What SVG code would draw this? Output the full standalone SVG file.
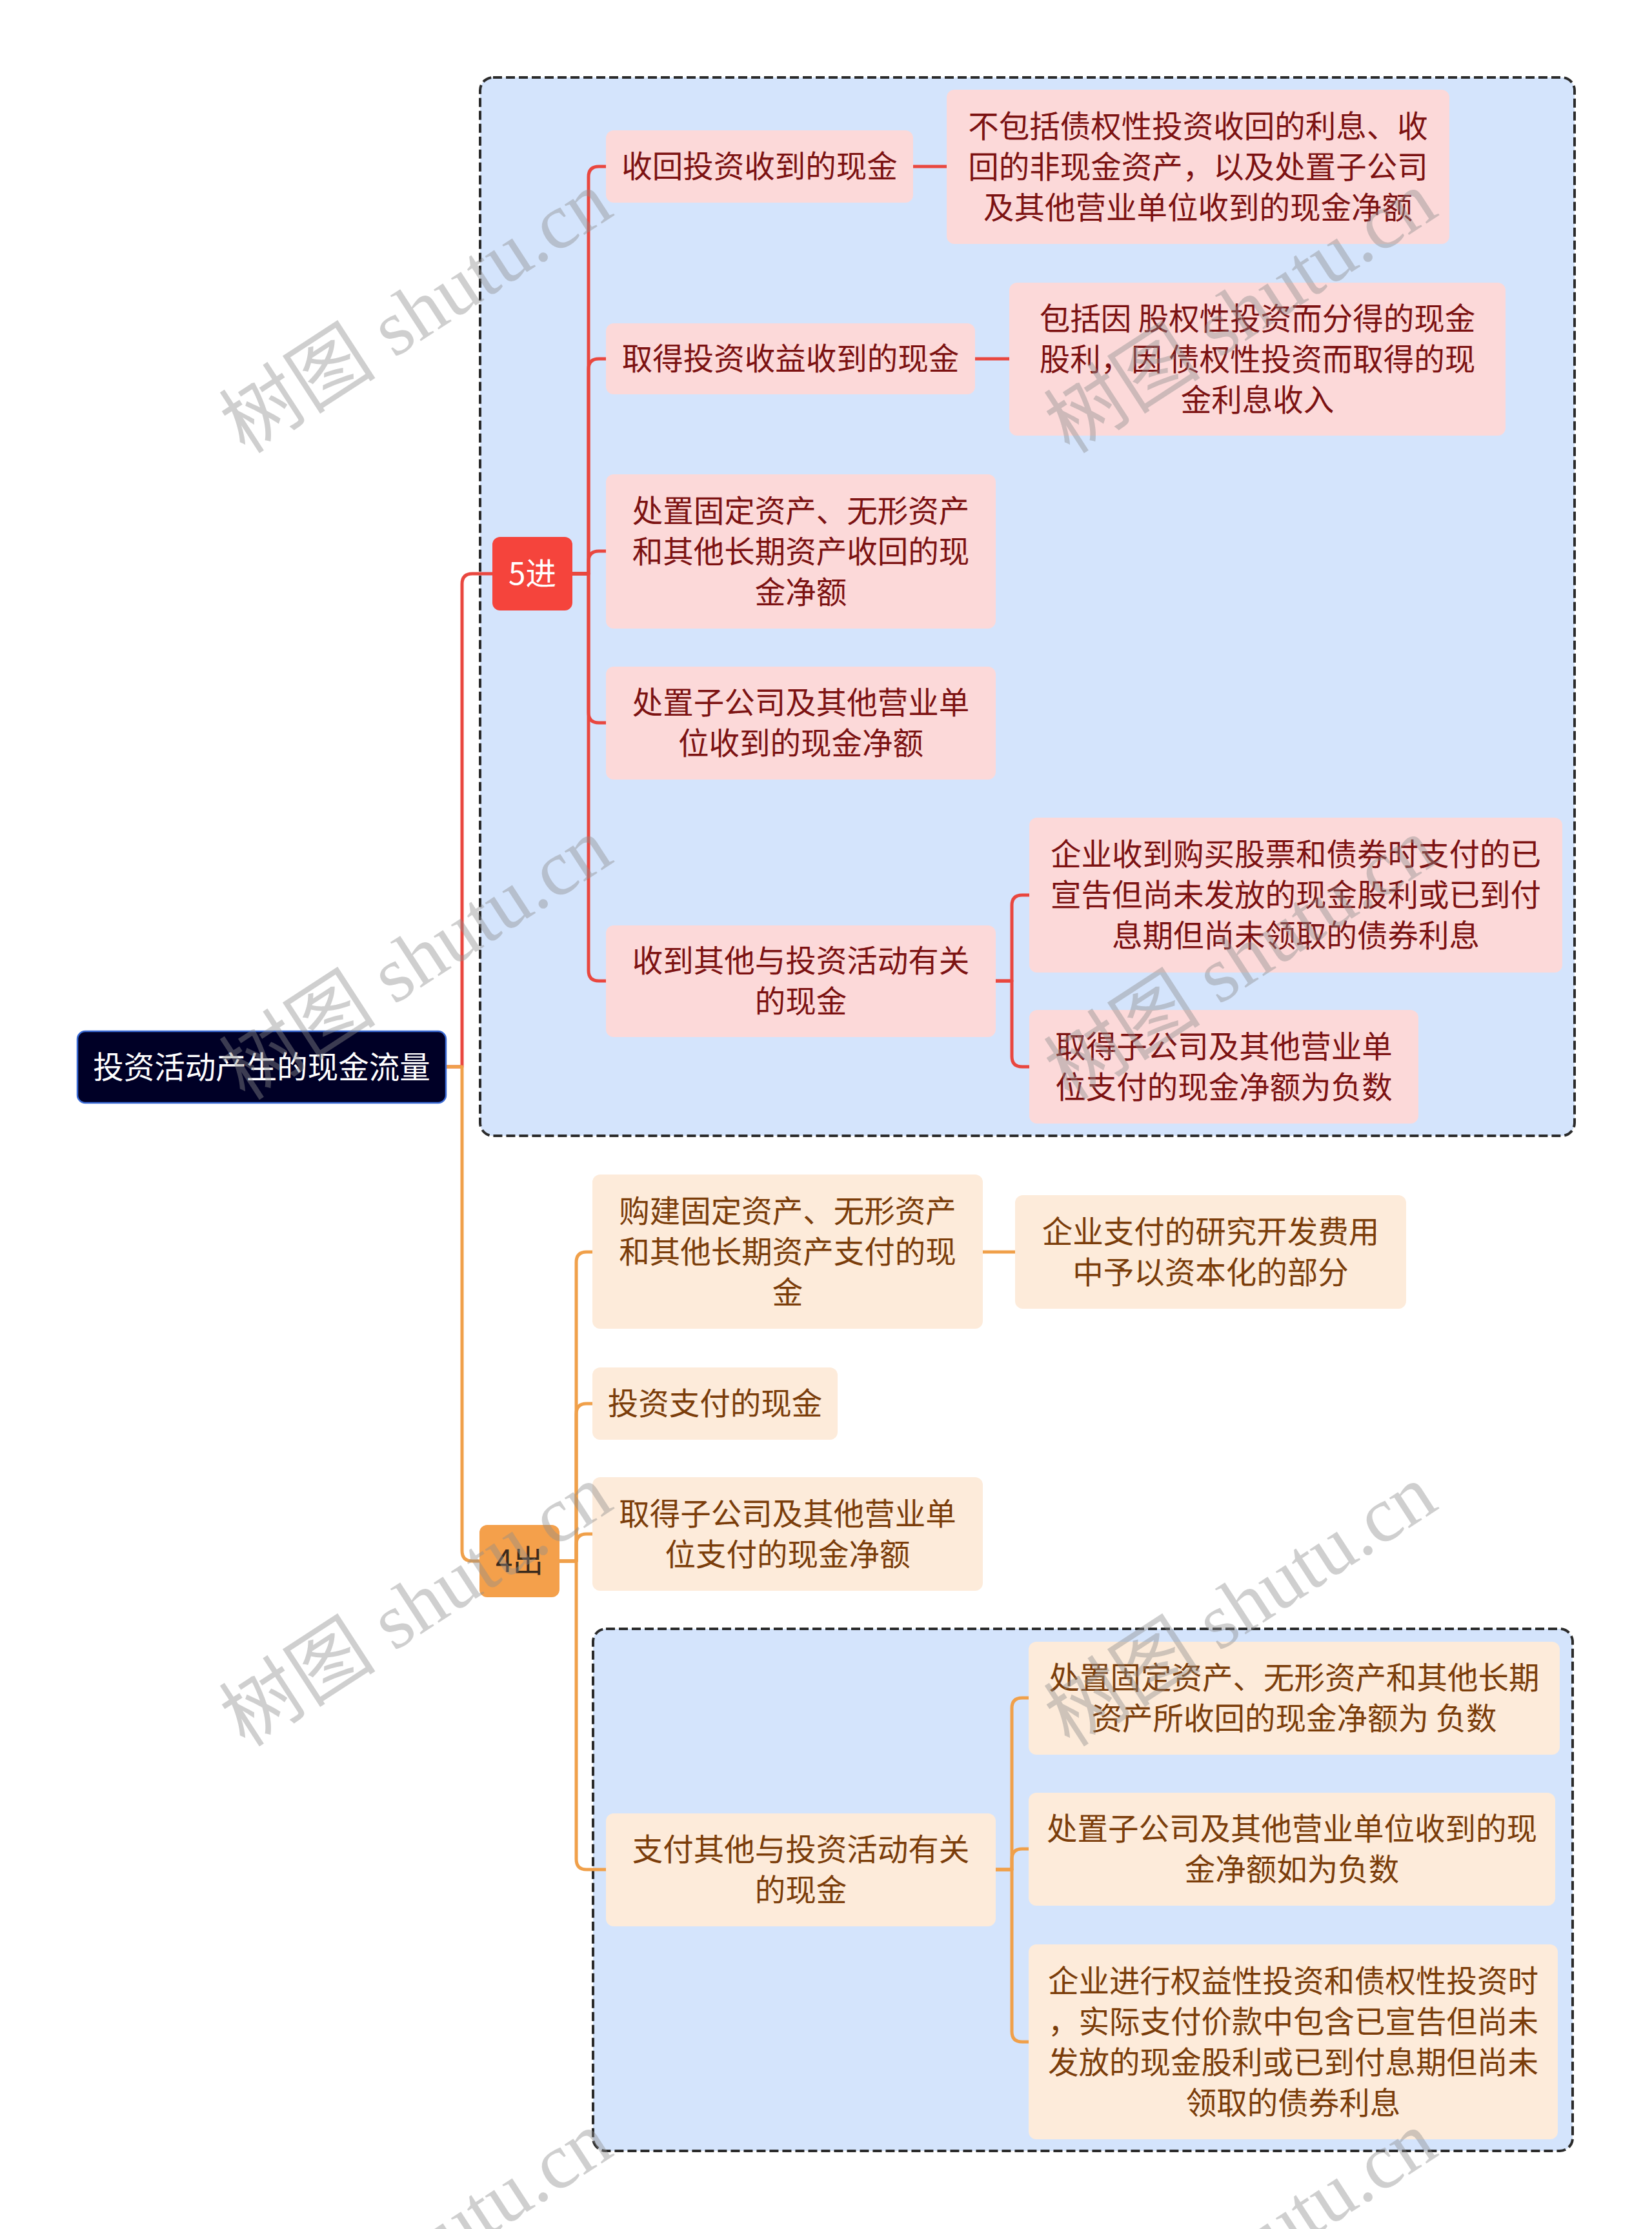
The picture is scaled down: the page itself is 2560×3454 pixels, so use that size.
<svg xmlns="http://www.w3.org/2000/svg" width="2560" height="3454" viewBox="0 0 2560 3454">
<style>
.bg{fill:#ffffff}
.grp{fill:#d4e4fc;stroke:#2b2b2b;stroke-width:4;stroke-dasharray:14 6}
.lr{fill:none;stroke:#e9473f;stroke-width:5;stroke-linejoin:round}
.lo{fill:none;stroke:#f0a04a;stroke-width:5;stroke-linejoin:round}
.nr{fill:#fcd9d9}
.no{fill:#fdebda}
.t{font-family:"Noto Sans CJK SC","Noto Sans",sans-serif;font-size:47.5px;text-anchor:middle}
.tr{fill:#7c1212}
.to{fill:#7b3d0a}
.wm{font-family:"Liberation Serif","Noto Sans CJK SC",serif;font-size:122px;fill:#8c8c8c;fill-opacity:0.42}
</style>
<rect class="bg" x="0" y="0" width="2560" height="3454"/>
<g id="group-in">
<rect class="grp" x="744" y="120" width="1696" height="1640" rx="20"/>
</g>
<g id="group-out">
<rect class="grp" x="919" y="2524" width="1518" height="809" rx="20"/>
</g>
<g id="connectors">
<path class="lr" d="M691,1653 H716 V905 Q716,889 732,889 H763"/>
<path class="lo" d="M691,1653 H716 V2403 Q716,2419 732,2419 H743"/>
<path class="lr" d="M887,889 H912 V274 Q912,258 928,258 H939"/>
<path class="lr" d="M887,889 H912 V572 Q912,556 928,556 H939"/>
<path class="lr" d="M887,889 H912 V870 Q912,854 928,854 H939"/>
<path class="lr" d="M887,889 H912 V1104 Q912,1120 928,1120 H939"/>
<path class="lr" d="M887,889 H912 V1504 Q912,1520 928,1520 H939"/>
<path class="lr" d="M1415,258 H1467"/>
<path class="lr" d="M1511,556 H1564"/>
<path class="lr" d="M1543,1520 H1568 V1403 Q1568,1387 1584,1387 H1595"/>
<path class="lr" d="M1543,1520 H1568 V1637 Q1568,1653 1584,1653 H1595"/>
<path class="lo" d="M867,2419 H893 V1956 Q893,1940 909,1940 H918"/>
<path class="lo" d="M867,2419 H893 V2191 Q893,2175 909,2175 H918"/>
<path class="lo" d="M867,2419 H893 V2393 Q893,2377 909,2377 H918"/>
<path class="lo" d="M867,2419 H893 V2881 Q893,2897 909,2897 H939"/>
<path class="lo" d="M1523,1940 H1573"/>
<path class="lo" d="M1543,2897 H1568 V2647 Q1568,2631 1584,2631 H1594"/>
<path class="lo" d="M1543,2897 H1568 V2881 Q1568,2865 1584,2865 H1594"/>
<path class="lo" d="M1543,2897 H1568 V3148 Q1568,3164 1584,3164 H1594"/>
</g>
<g id="root">
<rect x="120" y="1598" width="571" height="111" rx="12" fill="#000026" stroke="#3b6bd6" stroke-width="2.5"/>
<text class="t" x="405.5" y="1670.5" fill="#ffffff">投资活动产生的现金流量</text>
</g>
<g id="in">
<rect x="763" y="832" width="124" height="114" rx="12" fill="#f5443c"/>
<text class="t" x="825" y="906" fill="#ffffff">5进</text>
</g>
<g id="in-1">
<rect class="nr" x="939" y="202" width="476" height="112" rx="12"/>
<text class="t tr" x="1177" y="275">收回投资收到的现金</text>
</g>
<g id="in-1-1">
<rect class="nr" x="1467" y="139" width="779" height="239" rx="12"/>
<text class="t tr"><tspan x="1856.5" y="212.5">不包括债权性投资收回的利息、收</tspan><tspan x="1856.5" y="275.5">回的非现金资产，以及处置子公司</tspan><tspan x="1856.5" y="338.5">及其他营业单位收到的现金净额</tspan></text>
</g>
<g id="in-2">
<rect class="nr" x="939" y="501" width="572" height="110" rx="12"/>
<text class="t tr" x="1225" y="573">取得投资收益收到的现金</text>
</g>
<g id="in-2-1">
<rect class="nr" x="1564" y="438" width="769" height="237" rx="12"/>
<text class="t tr"><tspan x="1948.5" y="510.5">包括因 股权性投资而分得的现金</tspan><tspan x="1948.5" y="573.5">股利，因 债权性投资而取得的现</tspan><tspan x="1948.5" y="636.5">金利息收入</tspan></text>
</g>
<g id="in-3">
<rect class="nr" x="939" y="735" width="604" height="239" rx="12"/>
<text class="t tr"><tspan x="1241" y="808.5">处置固定资产、无形资产</tspan><tspan x="1241" y="871.5">和其他长期资产收回的现</tspan><tspan x="1241" y="934.5">金净额</tspan></text>
</g>
<g id="in-4">
<rect class="nr" x="939" y="1033" width="604" height="175" rx="12"/>
<text class="t tr"><tspan x="1241" y="1106">处置子公司及其他营业单</tspan><tspan x="1241" y="1169">位收到的现金净额</tspan></text>
</g>
<g id="in-5">
<rect class="nr" x="939" y="1434" width="604" height="173" rx="12"/>
<text class="t tr"><tspan x="1241" y="1506">收到其他与投资活动有关</tspan><tspan x="1241" y="1569">的现金</tspan></text>
</g>
<g id="in-5-1">
<rect class="nr" x="1595" y="1267" width="826" height="240" rx="12"/>
<text class="t tr"><tspan x="2008" y="1341">企业收到购买股票和债券时支付的已</tspan><tspan x="2008" y="1404">宣告但尚未发放的现金股利或已到付</tspan><tspan x="2008" y="1467">息期但尚未领取的债券利息</tspan></text>
</g>
<g id="in-5-2">
<rect class="nr" x="1595" y="1565" width="603" height="176" rx="12"/>
<text class="t tr"><tspan x="1896.5" y="1638.5">取得子公司及其他营业单</tspan><tspan x="1896.5" y="1701.5">位支付的现金净额为负数</tspan></text>
</g>
<g id="out">
<rect x="743" y="2363" width="124" height="112" rx="12" fill="#f4a04b"/>
<text class="t" x="805" y="2436" fill="#3a2a1c">4出</text>
</g>
<g id="out-1">
<rect class="no" x="918" y="1820" width="605" height="239" rx="12"/>
<text class="t to"><tspan x="1220.5" y="1893.5">购建固定资产、无形资产</tspan><tspan x="1220.5" y="1956.5">和其他长期资产支付的现</tspan><tspan x="1220.5" y="2019.5">金</tspan></text>
</g>
<g id="out-1-1">
<rect class="no" x="1573" y="1852" width="606" height="176" rx="12"/>
<text class="t to"><tspan x="1876" y="1925.5">企业支付的研究开发费用</tspan><tspan x="1876" y="1988.5">中予以资本化的部分</tspan></text>
</g>
<g id="out-2">
<rect class="no" x="918" y="2119" width="380" height="112" rx="12"/>
<text class="t to" x="1108" y="2192">投资支付的现金</text>
</g>
<g id="out-3">
<rect class="no" x="918" y="2289" width="605" height="176" rx="12"/>
<text class="t to"><tspan x="1220.5" y="2362.5">取得子公司及其他营业单</tspan><tspan x="1220.5" y="2425.5">位支付的现金净额</tspan></text>
</g>
<g id="out-4">
<rect class="no" x="939" y="2810" width="604" height="175" rx="12"/>
<text class="t to"><tspan x="1241" y="2883">支付其他与投资活动有关</tspan><tspan x="1241" y="2946">的现金</tspan></text>
</g>
<g id="out-4-1">
<rect class="no" x="1594" y="2544" width="823" height="175" rx="12"/>
<text class="t to"><tspan x="2005.5" y="2617">处置固定资产、无形资产和其他长期</tspan><tspan x="2005.5" y="2680">资产所收回的现金净额为 负数</tspan></text>
</g>
<g id="out-4-2">
<rect class="no" x="1594" y="2778" width="816" height="175" rx="12"/>
<text class="t to"><tspan x="2002" y="2851">处置子公司及其他营业单位收到的现</tspan><tspan x="2002" y="2914">金净额如为负数</tspan></text>
</g>
<g id="out-4-3">
<rect class="no" x="1594" y="3013" width="820" height="302" rx="12"/>
<text class="t to"><tspan x="2004" y="3086.5">企业进行权益性投资和债权性投资时</tspan><tspan x="2004" y="3149.5">，实际支付价款中包含已宣告但尚未</tspan><tspan x="2004" y="3212.5">发放的现金股利或已到付息期但尚未</tspan><tspan x="2004" y="3275.5">领取的债券利息</tspan></text>
</g>
<g id="watermarks">
<text class="wm" transform="translate(380,705) rotate(-33)">树图 shutu.cn</text>
<text class="wm" transform="translate(1658,705) rotate(-33)">树图 shutu.cn</text>
<text class="wm" transform="translate(380,1707) rotate(-33)">树图 shutu.cn</text>
<text class="wm" transform="translate(1658,1707) rotate(-33)">树图 shutu.cn</text>
<text class="wm" transform="translate(380,2709) rotate(-33)">树图 shutu.cn</text>
<text class="wm" transform="translate(1658,2709) rotate(-33)">树图 shutu.cn</text>
<text class="wm" transform="translate(380,3711) rotate(-33)">树图 shutu.cn</text>
<text class="wm" transform="translate(1658,3711) rotate(-33)">树图 shutu.cn</text>
</g>
</svg>
